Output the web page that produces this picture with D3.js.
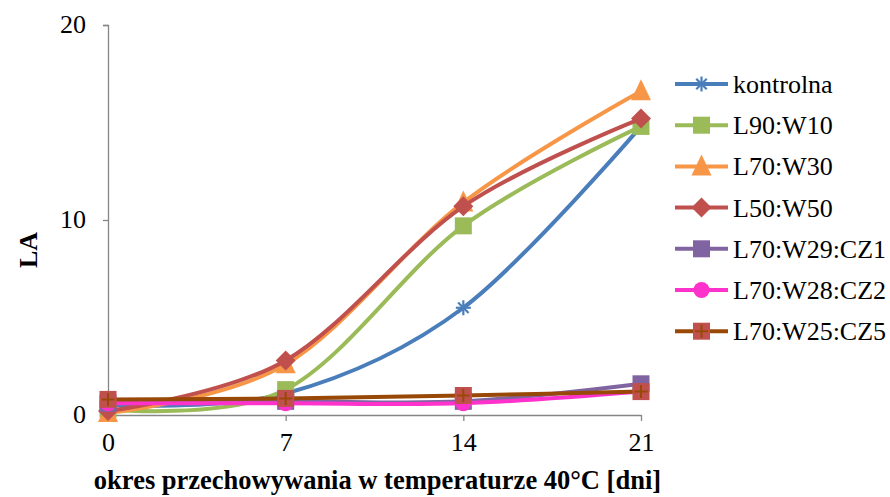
<!DOCTYPE html>
<html>
<head>
<meta charset="utf-8">
<script src="https://cdn.jsdelivr.net/npm/d3@7"></script>
<style>
  html, body { margin: 0; padding: 0; background: #fff; }
  svg { display: block; }
</style>
</head>
<body>
<svg id="chart" width="890" height="497" font-family="'Liberation Serif', 'Times New Roman', serif"></svg>
<script>
// Storage days at 40°C
const days = [0, 7, 14, 21];
const yTicks = [0, 10, 20];

// LA values per blend
const kontrolna   = [0.5, 1.1, 5.5, 14.8];
const l90w10      = [0.3, 1.3, 9.7, 14.8];
const l70w30      = [0.1, 2.6, 10.9, 16.6];
const l50w50      = [0.2, 2.8, 10.7, 15.2];
const l70w29cz1   = [0.6, 0.7, 0.7, 1.6];
const l70w28cz2   = [0.6, 0.6, 0.6, 1.2];
const l70w25cz5   = [0.8, 0.85, 1.0, 1.2];

const seriesNames = ["kontrolna", "L90:W10", "L70:W30", "L50:W50", "L70:W29:CZ1", "L70:W28:CZ2", "L70:W25:CZ5"];
const seriesValues = [kontrolna, l90w10, l70w30, l50w50, l70w29cz1, l70w28cz2, l70w25cz5];
const colors = ["#4A7EBB", "#9BBB59", "#F79646", "#C0504D", "#8064A2", "#FF33CC", "#984807"];
const markers = ["star", "square", "triangle", "diamond", "square", "circle", "squarePlus"];

const series = seriesNames.map((name, i) => ({
  name, color: colors[i], marker: markers[i],
  points: days.map((d, j) => ({ day: d, value: seriesValues[i][j] }))
}));

const FONT = "'Liberation Serif', 'Times New Roman', serif";
const FS = 26;

const svg = d3.select("#chart");
const margin = { left: 108, right: 249, top: 25, bottom: 82 };
const W = 890, H = 497;

const x = d3.scalePoint().domain(days).range([margin.left, W - margin.right]);
const y = d3.scaleLinear().domain([0, 20]).range([H - margin.bottom, margin.top]);

const axisColor = "#868686";

// Y axis
const yAxis = svg.append("g")
  .attr("transform", `translate(${margin.left},0)`)
  .call(d3.axisLeft(y).tickValues(yTicks).tickSize(5).tickPadding(17).tickFormat(d3.format("d")));
yAxis.attr("font-family", FONT).attr("font-size", FS);
yAxis.select(".domain").attr("stroke", axisColor).attr("stroke-width", 1.3);
yAxis.selectAll(".tick line").attr("stroke", axisColor).attr("stroke-width", 1.3);
yAxis.selectAll(".tick text").attr("fill", "#000").attr("dy", "0.3em");

// X axis
const xAxis = svg.append("g")
  .attr("transform", `translate(0,${y(0)})`)
  .call(d3.axisBottom(x).tickSize(6).tickSizeOuter(0).tickPadding(12));
xAxis.attr("font-family", FONT).attr("font-size", FS);
xAxis.select(".domain").attr("stroke", axisColor).attr("stroke-width", 1.3);
xAxis.selectAll(".tick line").attr("stroke", axisColor).attr("stroke-width", 1.3);
xAxis.selectAll(".tick text").attr("fill", "#000");

// Axis titles
svg.append("text")
  .attr("x", (x(0) + x(21)) / 2 + 3)
  .attr("y", 489)
  .attr("text-anchor", "middle")
  .attr("font-family", FONT)
  .attr("font-size", 26.5)
  .attr("font-weight", "bold")
  .text("okres przechowywania w temperaturze 40°C [dni]");

svg.append("text")
  .attr("transform", `translate(37,${(y(0) + y(20)) / 2 + 30}) rotate(-90)`)
  .attr("text-anchor", "middle")
  .attr("font-family", FONT)
  .attr("font-size", FS)
  .attr("font-weight", "bold")
  .text("LA");

// Marker drawing
function drawMarker(g, type, color, cx, cy) {
  const s = 8.5;
  if (type === "star") {
    const p = g.append("g").attr("stroke", color).attr("stroke-width", 2.2);
    const r = 7.5;
    p.append("line").attr("x1", cx - r).attr("x2", cx + r).attr("y1", cy).attr("y2", cy);
    p.append("line").attr("x1", cx - r * 0.7).attr("x2", cx + r * 0.7).attr("y1", cy - r * 0.7).attr("y2", cy + r * 0.7);
    p.append("line").attr("x1", cx - r * 0.7).attr("x2", cx + r * 0.7).attr("y1", cy + r * 0.7).attr("y2", cy - r * 0.7);
    p.append("line").attr("x1", cx).attr("x2", cx).attr("y1", cy - r).attr("y2", cy + r);
  } else if (type === "square") {
    g.append("rect").attr("x", cx - s).attr("y", cy - s).attr("width", 2 * s).attr("height", 2 * s).attr("fill", color);
  } else if (type === "triangle") {
    g.append("path").attr("d", `M${cx},${cy - 12}L${cx + 10},${cy + 9}L${cx - 10},${cy + 9}Z`).attr("fill", color);
  } else if (type === "diamond") {
    g.append("path").attr("d", `M${cx},${cy - 10}L${cx + 10},${cy}L${cx},${cy + 10}L${cx - 10},${cy}Z`).attr("fill", color);
  } else if (type === "circle") {
    g.append("circle").attr("cx", cx).attr("cy", cy).attr("r", 8).attr("fill", color);
  } else if (type === "squarePlus") {
    g.append("rect").attr("x", cx - s).attr("y", cy - s).attr("width", 2 * s).attr("height", 2 * s).attr("fill", "#C0504D");
    g.append("path").attr("d", `M${cx - s + 2},${cy}H${cx + s - 2}M${cx},${cy - s + 2}V${cy + s - 2}`)
      .attr("stroke", color).attr("stroke-width", 2).attr("fill", "none");
  }
}

// Smoothed series lines
const line = d3.line()
  .x(d => x(d.day))
  .y(d => y(d.value))
  .curve(d3.curveCardinal.tension(0));

const plot = svg.append("g");
series.forEach(s => {
  const g = plot.append("g");
  g.append("path")
    .datum(s.points)
    .attr("d", line)
    .attr("fill", "none")
    .attr("stroke", s.color)
    .attr("stroke-width", 4)
    .attr("stroke-linecap", "round");
  s.points.forEach(p => drawMarker(g, s.marker, s.color, x(p.day), y(p.value)));
});

// Legend
const legend = svg.append("g").attr("font-family", FONT).attr("font-size", FS);
series.forEach((s, i) => {
  const ly = 84 + i * 41.2;
  const g = legend.append("g");
  g.append("line").attr("x1", 675).attr("x2", 728).attr("y1", ly).attr("y2", ly)
    .attr("stroke", s.color).attr("stroke-width", 4);
  drawMarker(g, s.marker, s.color, 701.5, ly);
  g.append("text").attr("x", 733).attr("y", ly + 9).text(s.name);
});
</script>
</body>
</html>
